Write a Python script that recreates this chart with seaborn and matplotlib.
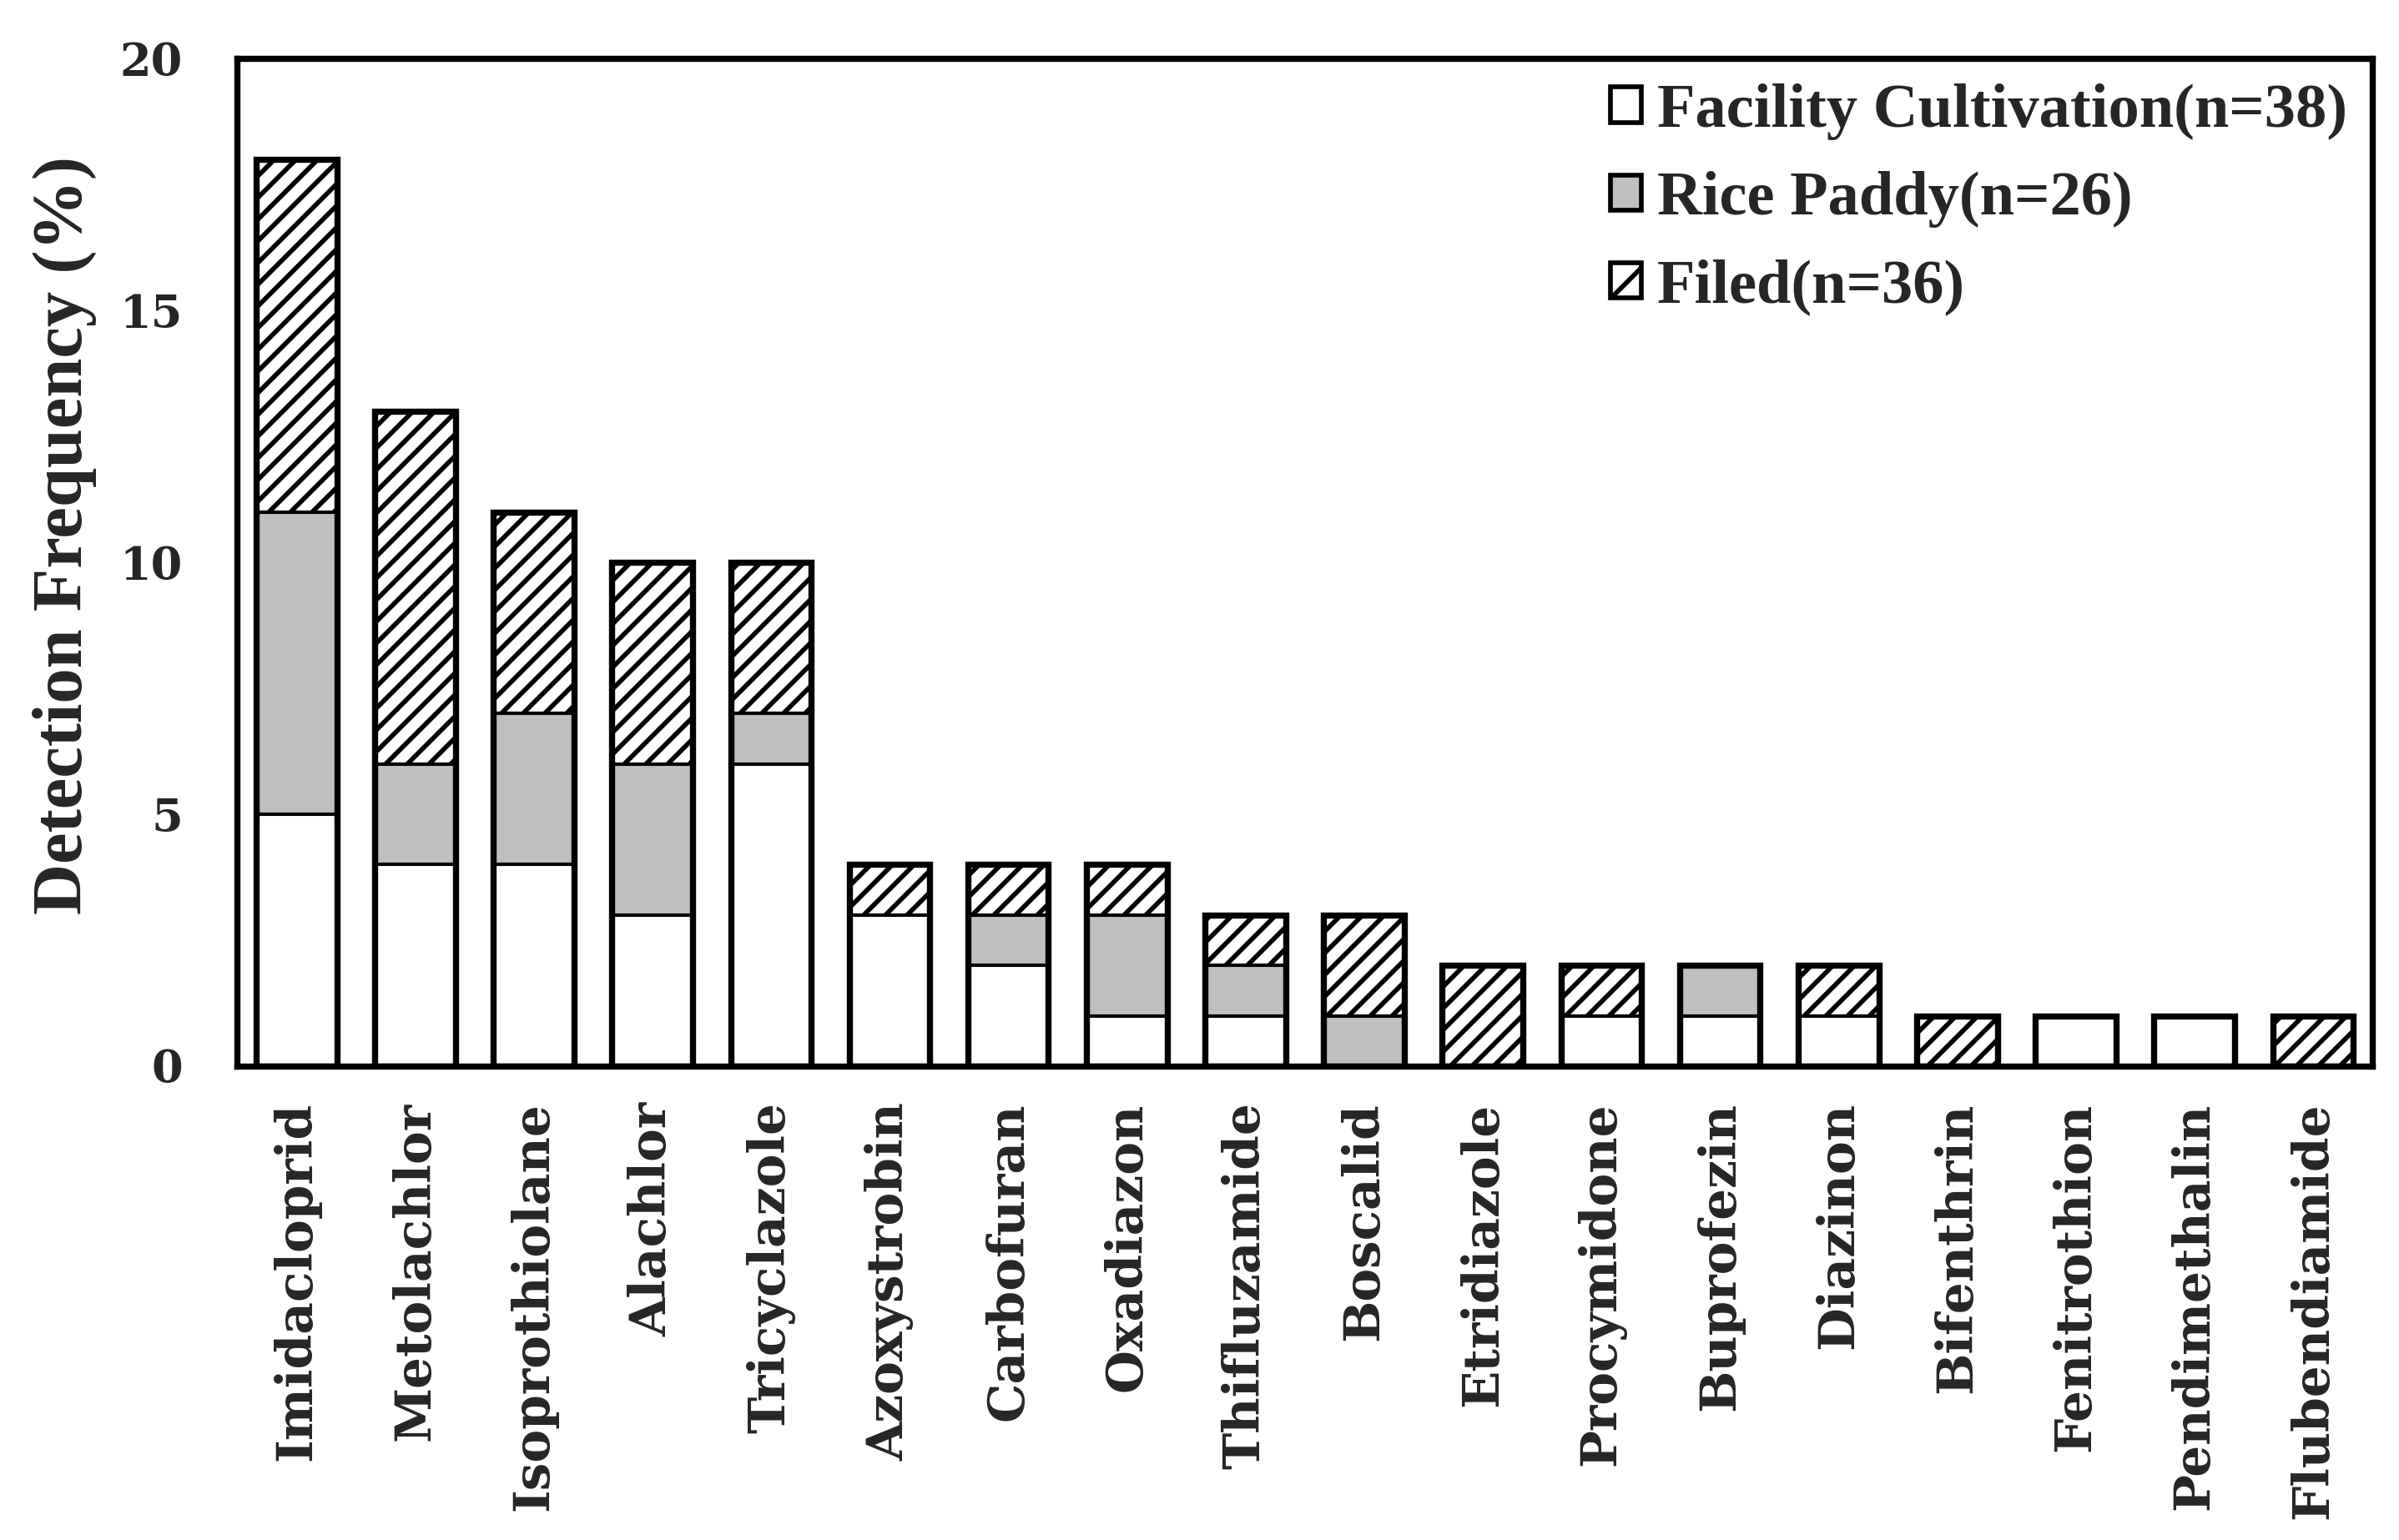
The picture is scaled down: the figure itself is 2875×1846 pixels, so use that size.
"""Stacked detection frequency of pesticides by land use."""

import matplotlib
matplotlib.use("Agg")
import matplotlib.pyplot as plt
from matplotlib.patches import Patch
import numpy as np
import seaborn as sns

pesticides = ["Imidacloprid", "Metolachlor", "Isoprothiolane", "Alachlor", "Tricyclazole",
              "Azoxystrobin", "Carbofuran", "Oxadiazon", "Thifluzamide", "Boscalid",
              "Etridiazole", "Procymidone", "Buprofezin", "Diazinon", "Bifenthrin",
              "Fenitrothion", "Pendimethalin", "Flubendiamide"]
facility = [5, 4, 4, 3, 6, 3, 2, 1, 1, 0, 0, 1, 1, 1, 0, 1, 1, 0]
rice_paddy = [6, 2, 3, 3, 1, 0, 1, 2, 1, 1, 0, 0, 1, 0, 0, 0, 0, 0]
filed = [7, 7, 4, 4, 3, 1, 1, 1, 1, 2, 2, 1, 0, 1, 1, 0, 0, 1]
legend_labels = ["Facility Cultivation(n=38)", "Rice Paddy(n=26)", "Filed(n=36)"]
yticks = [0, 5, 10, 15, 20]

sns.set_theme(style="white")
plt.rcParams["hatch.linewidth"] = 2.6

f = np.array(facility)
fr = f + np.array(rice_paddy)
total = fr + np.array(filed)

GRAY = "#bfbfbf"
DPI = 156
fig, ax = plt.subplots(figsize=(2876 / DPI, 1846 / DPI), dpi=DPI)
fig.subplots_adjust(left=0.0988, right=0.9885, bottom=0.3077, top=0.962)

common = dict(ax=ax, width=0.68, saturation=1, errorbar=None, edgecolor="black", linewidth=1.9)
# stacked look by overlaying cumulative totals
sns.barplot(x=pesticides, y=total, color="white", hatch="//", **common)
sns.barplot(x=pesticides, y=fr, color=GRAY, **common)
sns.barplot(x=pesticides, y=f, color="white", **common)
sns.barplot(x=pesticides, y=total, fill=False, color="black", ax=ax, width=0.68,
            errorbar=None, linewidth=3.4)

ax.set_xlim(-0.5, len(pesticides) - 0.5)
ax.set_ylim(0, 20)
ax.set_yticks(yticks)
ax.set_yticklabels([str(t) for t in yticks], family="DejaVu Serif", fontweight="bold", fontsize=25)
ax.set_xticks(range(len(pesticides)))
ax.set_xticklabels(pesticides, rotation=90, family="DejaVu Serif", fontweight="bold", fontsize=27.5)
ax.tick_params(axis="x", length=0, pad=20)
ax.tick_params(axis="y", length=0, pad=30)

ax.set_ylabel("Detection Frequency (%)", family="Liberation Serif", fontweight="bold",
              fontsize=39, labelpad=13)
ax.yaxis.label.set_y(0.527)
ax.set_xlabel("")

for s in ax.spines.values():
    s.set_visible(True)
    s.set_color("black")
    s.set_linewidth(3.4)

handles = [Patch(facecolor="white", edgecolor="black", linewidth=2.6),
           Patch(facecolor=GRAY, edgecolor="black", linewidth=2.6),
           Patch(facecolor="white", edgecolor="black", linewidth=2.6, hatch="/")]
ax.legend(handles, legend_labels, loc="upper right", frameon=False,
          prop={"family": "Liberation Serif", "weight": "bold", "size": 34.4},
          handlelength=0.5, handleheight=0.5, handletextpad=0.25, labelspacing=0.5,
          borderaxespad=0.1, borderpad=0.3)

fig.savefig("out.png", dpi=DPI)
